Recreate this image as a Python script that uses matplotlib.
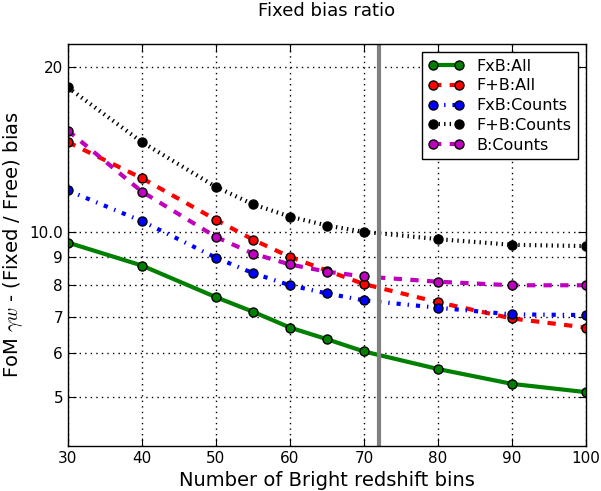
import matplotlib
matplotlib.use("Agg")
import matplotlib.pyplot as plt
from matplotlib.ticker import NullLocator

x_bins = [30, 40, 50, 55, 60, 65, 70, 80, 90, 100]
fxb_all = [9.56, 8.68, 7.60, 7.15, 6.69, 6.37, 6.05, 5.62, 5.28, 5.10]
fpb_all = [14.58, 12.53, 10.52, 9.68, 9.00, 8.50, 8.03, 7.44, 6.95, 6.69]
fxb_counts = [11.9, 10.46, 8.97, 8.41, 7.99, 7.72, 7.50, 7.27, 7.07, 7.05]
fpb_counts = [18.34, 14.58, 12.08, 11.23, 10.66, 10.27, 10.0, 9.70, 9.47, 9.42]
b_counts = [15.3, 11.84, 9.79, 9.13, 8.72, 8.46, 8.29, 8.11, 7.99, 7.99]
labels = ["FxB:All", "F+B:All", "FxB:Counts", "F+B:Counts", "B:Counts"]
ytick_vals = [5, 6, 7, 8, 9, 10, 20]
ytick_labels = ["5", "6", "7", "8", "9", "10.0", "20"]
xtick_vals = [30, 40, 50, 60, 70, 80, 90, 100]
vline_x = 72

plt.rcParams['mathtext.fontset'] = 'cm'
plt.rcParams['lines.scale_dashes'] = False
fig = plt.figure(figsize=(6.01, 4.91), dpi=100)
ax = fig.add_axes([0.113, 0.092, 0.862, 0.818])

series = [fxb_all, fpb_all, fxb_counts, fpb_counts, b_counts]
colors = ["green", "red", "blue", "black", "m"]
styles = ["-", (0, (6, 6)), (0, (3, 5, 1, 5)), (0, (1, 3)), (0, (6, 6))]
for s, c, ls, lab in zip(series, colors, styles, labels):
    ax.plot(x_bins, s, color=c, linestyle=ls, linewidth=3, marker="o",
            markersize=6.5, markeredgecolor="black", markerfacecolor=c, label=lab)

ax.axvline(vline_x, color="gray", linewidth=3)
ax.set_yscale("log")
ax.set_xlim(30, 100)
ax.set_ylim(4.07, 22.0)
ax.set_yticks(ytick_vals)
ax.set_yticklabels(ytick_labels)
ax.yaxis.set_minor_locator(NullLocator())
ax.set_xticks(xtick_vals)
ax.tick_params(labelsize=11, direction="in", length=6, top=True, right=True)
ax.grid(True, color="black", linestyle=(0, (1, 3)), linewidth=1)
ax.set_xlabel("Number of Bright redshift bins", fontsize=14)
ax.set_ylabel(r"FoM $\gamma w$ - (Fixed / Free) bias", fontsize=14, labelpad=3)
ax.set_title("Fixed bias ratio", fontsize=13, pad=20)
leg = ax.legend(loc="upper right", fontsize=11.5, numpoints=2, fancybox=False,
                framealpha=1, edgecolor="black", handlelength=2.2,
                labelspacing=0.3, borderpad=0.4)
leg.get_frame().set_linewidth(1)
for sp in ax.spines.values():
    sp.set_linewidth(1)
fig.savefig("out.png", dpi=100)
